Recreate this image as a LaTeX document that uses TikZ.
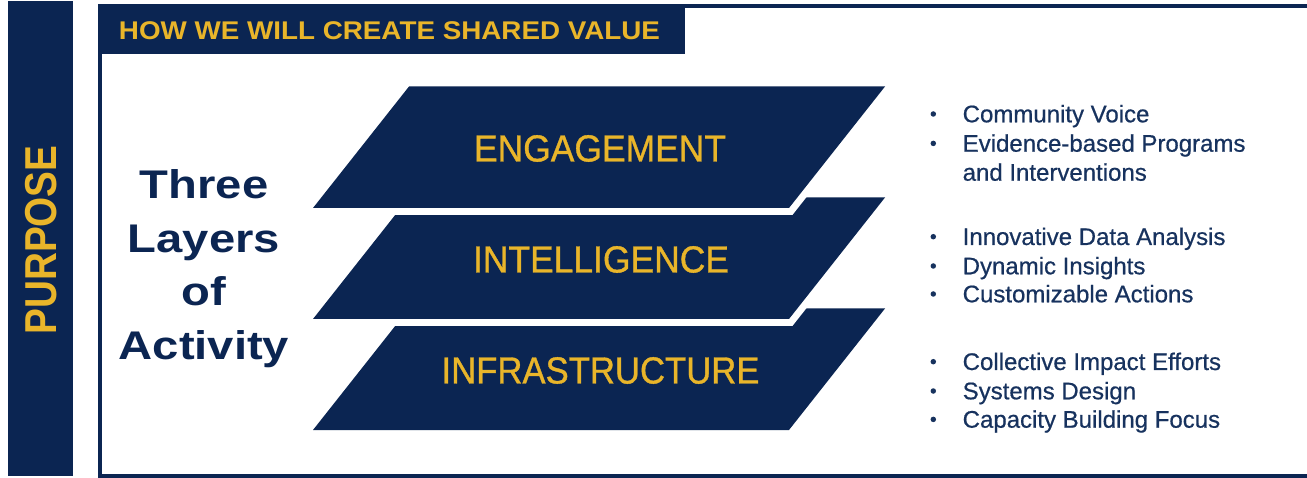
\documentclass[tikz,border=0pt]{standalone}
\usepackage{fontspec}
\setmainfont{Liberation Sans}
\newfontfamily\layerfont[FakeBold=0.9]{Liberation Sans}
\newfontfamily\bulletfont[FakeBold=0.6]{Liberation Sans}
\definecolor{navy}{HTML}{0B2552}
\definecolor{gold}{HTML}{E9B52A}
\definecolor{bulletblue}{HTML}{17325E}
\tikzset{
  layerfill/.style={fill=navy},
  layerhalo/.style={draw=white, line width=14pt, line join=miter},
  layertext/.style={text=gold, inner sep=0pt, font=\layerfont\fontsize{37.7}{40}\selectfont},
  bullettext/.style={text=bulletblue, anchor=base west, inner sep=0pt, font=\bulletfont\fontsize{24}{28}\selectfont},
  bulletdot/.style={circle, fill=bulletblue, inner sep=0pt, minimum size=5.5pt},
  sidetext/.style={text=navy, anchor=base, inner sep=0pt, font=\fontsize{40}{48}\selectfont\bfseries},
}
\begin{document}
\begin{tikzpicture}[x=1pt, y=-1pt]
\useasboundingbox (0,0) rectangle (1307,478);
\clip (0,0) rectangle (1307,478);
% purpose bar
\fill[navy] (8,1) rectangle (72.5,476);
\node[text=gold, inner sep=0pt, rotate=90, font=\fontsize{38.7}{40}\selectfont\bfseries] (purpose) at (41,240) {\scalebox{1}[1.155]{PURPOSE}};
% frame
\draw[navy, line width=4.5pt] (100,6) rectangle (1330,476);
\fill[navy] (97.5,4) rectangle (685,54);
\node[text=gold, inner sep=0pt, font=\fontsize{25.6}{28}\selectfont\bfseries] (title) at (389.5,30.2) {\scalebox{1.086}[1]{HOW WE WILL CREATE SHARED VALUE}};
% left label
\node[sidetext] (l1) at (204,199) {\scalebox{1.18}[1]{Three}};
\node[sidetext] (l2) at (204,252.5) {\scalebox{1.18}[1]{Layers}};
\node[sidetext] (l3) at (204,306) {\scalebox{1.18}[1]{of}};
\node[sidetext] (l4) at (204,359.5) {\scalebox{1.18}[1]{Activity}};
% layers (bottom to top)
\path[layerfill] (409,308.5) -- (885,308.5) -- (789,430) -- (313,430) -- cycle;
\path[layerhalo] (409,197.5) -- (885,197.5) -- (789,319) -- (313,319) -- cycle;
\path[layerfill] (409,197.5) -- (885,197.5) -- (789,319) -- (313,319) -- cycle;
\path[layerhalo] (409,86.5) -- (885,86.5) -- (789,208) -- (313,208) -- cycle;
\path[layerfill] (409,86.5) -- (885,86.5) -- (789,208) -- (313,208) -- cycle;
\node[layertext] (eng) at (600,148.5) {\scalebox{0.94}[1]{ENGAGEMENT}};
\node[layertext] (int) at (601,259.5) {\scalebox{0.94}[1]{INTELLIGENCE}};
\node[layertext] (inf) at (600.5,370.5) {\scalebox{0.92}[1]{INFRASTRUCTURE}};
% bullets
\node[bulletdot] (d1) at (933.3,114) {};
\node[bullettext] (b1) at (962.5,122.3) {Community Voice};
\node[bulletdot] (d2) at (933.3,143.4) {};
\node[bullettext] (b2) at (962.5,151.7) {Evidence-based Programs};
\node[bullettext] (b2b) at (962.5,180.7) {and Interventions};
\node[bulletdot] (d3) at (933.3,236.7) {};
\node[bullettext] (b3) at (962.5,245) {Innovative Data Analysis};
\node[bulletdot] (d4) at (933.3,266) {};
\node[bullettext] (b4) at (962.5,274.3) {Dynamic Insights};
\node[bulletdot] (d5) at (933.3,294) {};
\node[bullettext] (b5) at (962.5,302.3) {Customizable Actions};
\node[bulletdot] (d6) at (933.3,361.7) {};
\node[bullettext] (b6) at (962.5,370) {Collective Impact Efforts};
\node[bulletdot] (d7) at (933.3,391) {};
\node[bullettext] (b7) at (962.5,399.3) {Systems Design};
\node[bulletdot] (d8) at (933.3,419.4) {};
\node[bullettext] (b8) at (962.5,427.7) {Capacity Building Focus};
\end{tikzpicture}
\end{document}
